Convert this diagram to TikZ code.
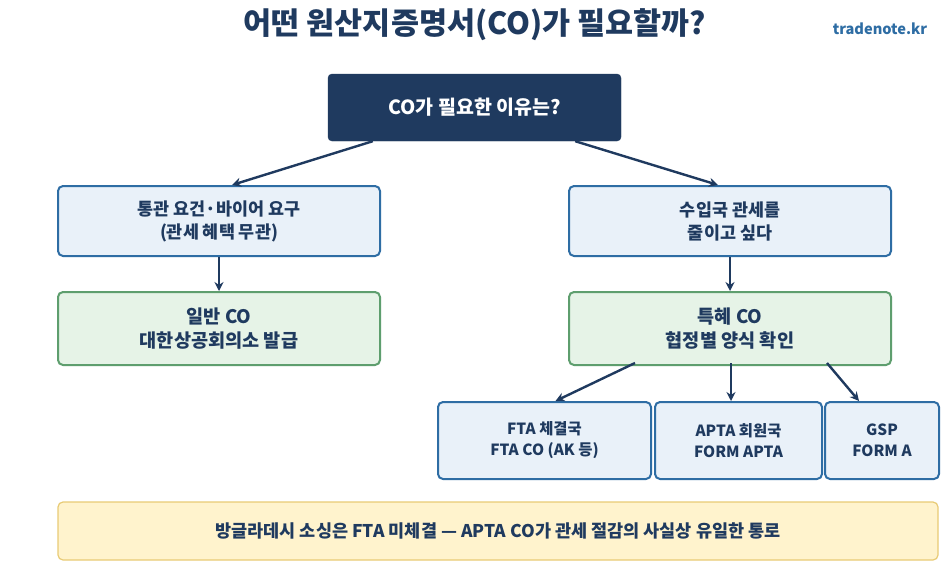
\documentclass[tikz,border=0pt]{standalone}
\usepackage{fontspec}
\setmainfont{Noto Sans CJK KR}
\usepackage{tikz}
\usetikzlibrary{arrows.meta, positioning, calc}
\definecolor{mynavy}{RGB}{31,58,95}
\definecolor{myblue}{RGB}{46,109,164}
\definecolor{mygreen}{RGB}{94,158,110}
\definecolor{mygold}{RGB}{232,203,117}
\definecolor{hdrblue}{RGB}{233,241,249}
\definecolor{hdrgreen}{RGB}{230,243,231}
\definecolor{hdrgold}{RGB}{255,243,205}
\tikzset{
  qbox/.style={rectangle, draw=mynavy, fill=mynavy, text=white,
    minimum width=293pt, minimum height=67pt, align=center,
    font=\fontsize{19.5}{23}\selectfont\bfseries, rounded corners=4pt},
  bluebox/.style={rectangle, draw=myblue, fill=hdrblue, text=mynavy,
    minimum width=322pt, minimum height=70pt, align=center,
    font=\fontsize{17.4}{23}\selectfont\bfseries, rounded corners=5pt, line width=2pt},
  greenbox/.style={rectangle, draw=mygreen, fill=hdrgreen, text=mynavy,
    minimum width=322pt, minimum height=73pt, align=center,
    font=\fontsize{18.6}{24}\selectfont\bfseries, rounded corners=5pt, line width=2pt},
  formbox/.style={rectangle, draw=myblue, fill=hdrblue, text=mynavy,
    minimum height=77pt, align=center,
    font=\fontsize{15.4}{21}\selectfont\bfseries, rounded corners=5pt, line width=2pt},
  notebox/.style={rectangle, draw=mygold, fill=hdrgold, text=mynavy,
    minimum width=880pt, minimum height=58pt, align=center,
    font=\fontsize{17.5}{20}\selectfont\bfseries, rounded corners=5pt, line width=1.2pt},
  arrow/.style={-{Stealth[length=9pt, width=9pt]}, line width=2.4pt, color=mynavy}
}

\begin{document}
\begin{tikzpicture}[x=1pt, y=-1pt]
  \useasboundingbox[fill=white] (0,0) rectangle (950,576);

  \node[font=\fontsize{30.5}{33}\selectfont\bfseries, text=mynavy] (title) at (475,25) {어떤 원산지증명서(CO)가 필요할까?};
  \node[font=\fontsize{14.6}{16}\selectfont\bfseries, text=myblue] (site) at (880,29) {tradenote.kr};

  \node[qbox] (why) at (474.5,107.5) {CO가 필요한 이유는?};

  \node[bluebox] (need) at (219,221) {통관 요건·바이어 요구\\(관세 혜택 무관)};
  \node[greenbox, below=34pt of need] (general) {일반 CO\\대한상공회의소 발급};

  \node[bluebox] (save) at (730,221) {수입국 관세를\\줄이고 싶다};
  \node[greenbox, below=34pt of save] (pref) {특혜 CO\\협정별 양식 확인};

  \node[formbox, minimum width=213pt] (fta) at (544.5,440.5) {FTA 체결국\\FTA CO (AK 등)};
  \node[formbox, minimum width=167pt] (apta) at (738.5,440.5) {APTA 회원국\\FORM APTA};
  \node[formbox, minimum width=114pt] (gsp) at (882,440.5) {GSP\\FORM A};

  \node[notebox] (note) at (498,531) {방글라데시 소싱은 FTA 미체결 — APTA CO가 관세 절감의 사실상 유일한 통로};

  % Connections
  \draw[arrow] ([xshift=45pt]why.south west) -- ([xshift=13pt]need.north);
  \draw[arrow] ([xshift=-46pt]why.south east) -- ([xshift=-12pt]save.north);
  \draw[arrow] (need) -- (general);
  \draw[arrow] (save) -- (pref);
  \draw[arrow] ([xshift=67pt, yshift=3pt]pref.south west) -- ([xshift=11pt]fta.north);
  \draw[arrow] ([xshift=1pt, yshift=3pt]pref.south) -- ([xshift=-7.5pt]apta.north);
  \draw[arrow] ([xshift=-65pt, yshift=3pt]pref.south east) -- ([xshift=-23pt]gsp.north);
\end{tikzpicture}
\end{document}
